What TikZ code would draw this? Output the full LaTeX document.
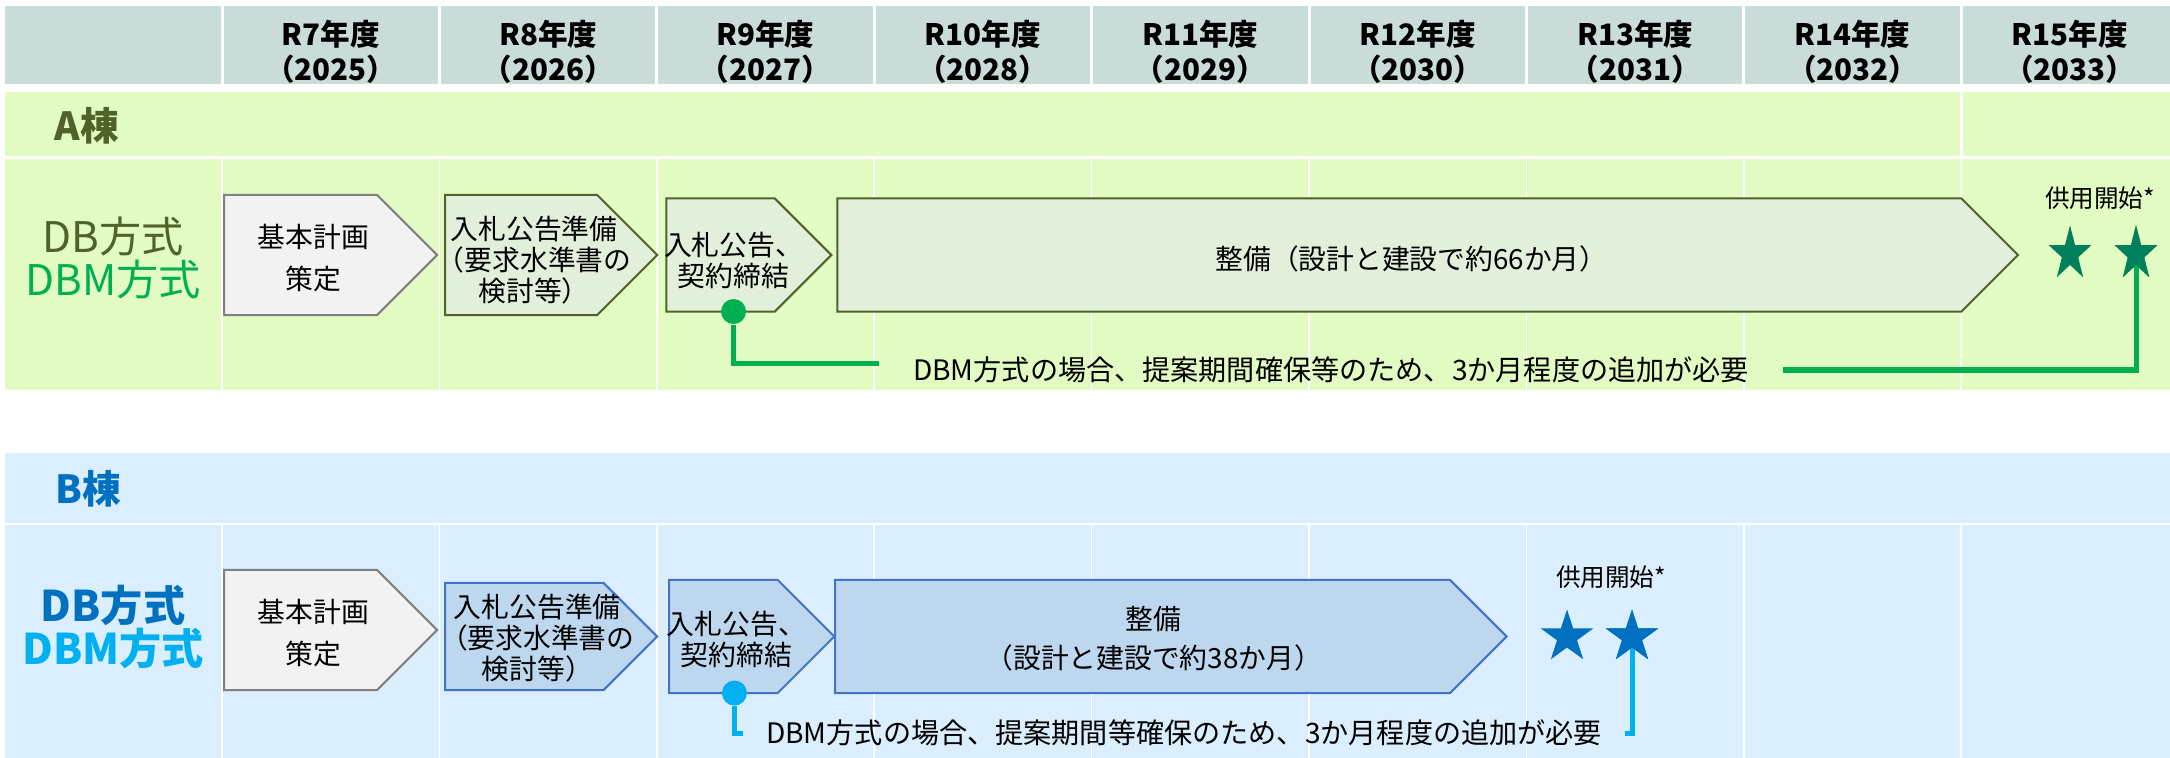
\documentclass[tikz,border=0pt]{standalone}
\usepackage{fontspec}
\setmainfont{Noto Sans CJK JP}
\usetikzlibrary{positioning,shapes.symbols,shapes.geometric}

\definecolor{hdrfill}{HTML}{C9DCDA}
\definecolor{limefill}{HTML}{E2FBC2}
\definecolor{skyfill}{HTML}{DBEEFD}
\definecolor{olive}{HTML}{4F6228}
\definecolor{greenA}{HTML}{00B050}
\definecolor{starA}{HTML}{00805A}
\definecolor{planfill}{HTML}{F2F2F2}
\definecolor{planline}{HTML}{808080}
\definecolor{boxAfill}{HTML}{E2EFDA}
\definecolor{boxBfill}{HTML}{BDD7EE}
\definecolor{boxBline}{HTML}{4472C4}
\definecolor{blueB}{HTML}{0070C0}
\definecolor{cyanB}{HTML}{00B0F0}

\tikzset{
  phasebox/.style={signal, signal to=east, signal pointer angle=90, inner sep=0pt, outer sep=0pt, line width=0.02cm},
  planbox/.style={phasebox, draw=planline, fill=planfill},
  phaseA/.style={phasebox, draw=olive, fill=boxAfill},
  phaseB/.style={phasebox, draw=boxBline, fill=boxBfill},
  phasetext/.style={align=center, inner sep=0pt, font=\fontsize{7.9}{8.8}\selectfont},
  yeartext/.style={align=center, inner sep=0pt, font=\bfseries\fontsize{8.4}{10}\selectfont},
  remark/.style={inner ysep=0pt, font=\fontsize{8}{9}\selectfont},
  opening/.style={inner sep=0pt, font=\fontsize{7}{8}\selectfont},
  milestone/.style={star, star points=5, star point ratio=2.618, inner sep=0pt, draw=none},
  grid/.style={white, line width=0.015cm}
}

\begin{document}
\begin{tikzpicture}[x=0.01cm, y=-0.01cm]
	\useasboundingbox (0,0) rectangle (2170,758);
	% bands
	\fill[hdrfill] (5,6) rectangle (2170,84);
	\fill[limefill] (5,92) rectangle (2170,156);
	\fill[limefill] (5,159) rectangle (2170,390);
	\fill[skyfill] (5,453) rectangle (2170,523);
	\fill[skyfill] (5,525) rectangle (2170,758);
	\foreach \k in {0,...,8} {
		\draw[white, line width=0.03cm] (222+217.4*\k,6) -- (222+217.4*\k,84);
		\draw[grid] (222+217.4*\k,159) -- (222+217.4*\k,390);
		\draw[grid] (222+217.4*\k,525) -- (222+217.4*\k,758);
	}
	\draw[white, line width=0.03cm] (1961,92) -- (1961,156);
	% years
	\foreach \k in {0,...,8} {
		\pgfmathtruncatemacro\reiwa{\k+7}
		\pgfmathtruncatemacro\seireki{\k+2025}
		\node[yeartext] (yr\k) at (330.7+217.4*\k,52) {R\reiwa 年度\\（\seireki）};
	}
	% row labels
	\node[inner sep=0pt, anchor=west, text=olive, font=\bfseries\fontsize{11}{11}\selectfont] (labA) at (54,126) {A棟};
	\node[inner sep=0pt, anchor=west, text=blueB, font=\bfseries\fontsize{11}{11}\selectfont] (labB) at (55,489) {B棟};
	\node[align=center, inner sep=0pt, font=\fontsize{12}{12.3}\selectfont] (methA) at (113,258) {\textcolor{olive}{DB方式}\\\textcolor{greenA}{DBM方式}};
	\node[align=center, inner sep=0pt, font=\bfseries\fontsize{12}{12.3}\selectfont] (methB) at (113,627) {\textcolor{blueB}{DB方式}\\\textcolor{cyanB}{DBM方式}};

	% A棟
	\node[planbox, minimum width=2.13cm, minimum height=1.2cm, anchor=west] (a1) at (224,255) {};
	\node[phaseA, minimum width=2.12cm, minimum height=1.2cm, right=0.08cm of a1] (a2) {};
	\node[phaseA, minimum width=1.65cm, minimum height=1.13cm, right=0.09cm of a2] (a3) {};
	\node[phaseA, minimum width=11.8cm, minimum height=1.13cm, right=0.06cm of a3] (a4) {};
	\node[phasetext] (a1t) at ([xshift=0.13cm,yshift=-0.03cm]a1.center) {基本計画\\[0.12cm]策定};
	\node[phasetext] (a2t) at ([xshift=0.13cm,yshift=-0.05cm]a2.center) {入札公告準備\\（要求水準書の\\検討等）};
	\node[phasetext] (a3t) at ([xshift=0.13cm,yshift=-0.05cm]a3.center) {入札公告、\\契約締結};
	\node[phasetext] (a4t) at ([xshift=0.12cm,yshift=-0.04cm]a4.center) {整備（設計と建設で約66か月）};
	\node[circle, fill=greenA, minimum size=0.25cm, inner sep=0pt] (dotA) at ([xshift=0.13cm]a3.south) {};
	\node[remark, inner xsep=0.33cm] (noteA) at (1331,370) {DBM方式の場合、提案期間確保等のため、3か月程度の追加が必要};
	\node[milestone, fill=starA, minimum size=0.574cm, xscale=0.78, transform shape] (starA1) at (2070,254) {};
	\node[milestone, fill=starA, minimum size=0.574cm, xscale=0.78, transform shape] (starA2) at (2136,254) {};
	\node[opening] (openA) at (2100,198) {供用開始*};
	\draw[greenA, line width=0.05cm] (dotA) |- ([yshift=0.06cm]noteA.west);
	\draw[greenA, line width=0.05cm] (noteA.east) -| (starA2);
	\node[milestone, fill=starA, minimum size=0.574cm, xscale=0.78, transform shape] at (starA2) {};

	% B棟
	\node[planbox, minimum width=2.13cm, minimum height=1.2cm, anchor=west] (b1) at (224,630) {};
	\node[phaseB, minimum width=2.12cm, minimum height=1.07cm, anchor=west] (b2) at (445,636.5) {};
	\node[phaseB, minimum width=1.65cm, minimum height=1.13cm, right=0.12cm of b2] (b3) {};
	\node[phaseB, minimum width=6.71cm, minimum height=1.13cm, right=0.01cm of b3] (b4) {};
	\node[phasetext] (b1t) at ([xshift=0.13cm,yshift=-0.03cm]b1.center) {基本計画\\[0.12cm]策定};
	\node[phasetext] (b2t) at ([xshift=0.13cm,yshift=-0.02cm]b2.center) {入札公告準備\\（要求水準書の\\検討等）};
	\node[phasetext] (b3t) at ([xshift=0.13cm,yshift=-0.03cm]b3.center) {入札公告、\\契約締結};
	\node[phasetext] (b4t) at ([xshift=0.11cm,yshift=-0.02cm]b4.center) {整備\\[0.08cm]（設計と建設で約38か月）};
	\node[circle, fill=cyanB, minimum size=0.25cm, inner sep=0pt] (dotB) at ([xshift=0.11cm]b3.south) {};
	\node[remark, inner xsep=0.22cm] (noteB) at (1184,733) {DBM方式の場合、提案期間等確保のため、3か月程度の追加が必要};
	\node[milestone, fill=blueB, minimum size=0.55cm] (starB1) at (1567,637) {};
	\node[milestone, fill=blueB, minimum size=0.55cm] (starB2) at (1632,637) {};
	\node[opening] (openB) at (1611,577) {供用開始*};
	\draw[cyanB, line width=0.05cm] (dotB) |- (noteB.west);
	\draw[cyanB, line width=0.05cm] (noteB.east) -| (starB2);
	\node[milestone, fill=blueB, minimum size=0.55cm] at (starB2) {};
\end{tikzpicture}
\end{document}
